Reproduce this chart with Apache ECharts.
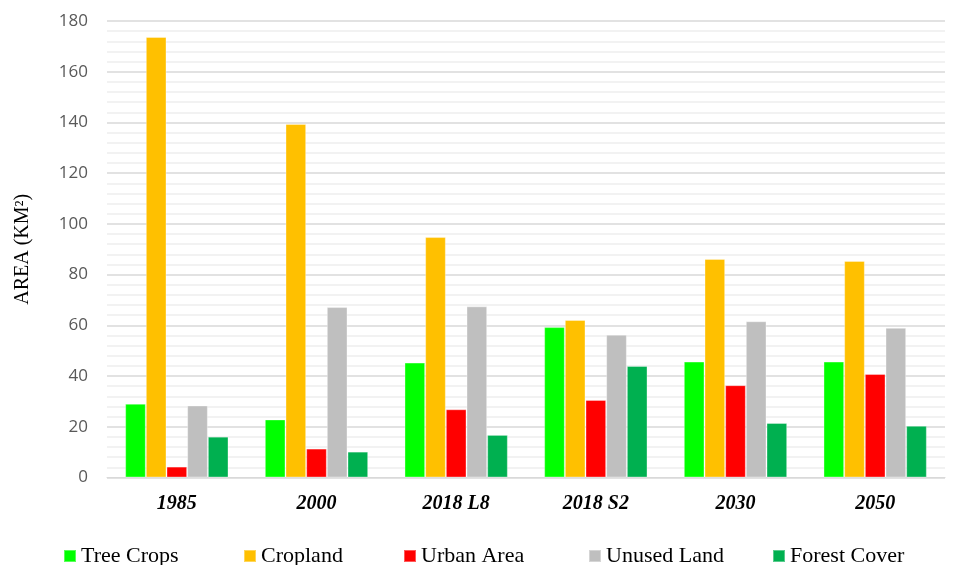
<!DOCTYPE html>
<html>
<head>
<meta charset="utf-8">
<script src="https://cdn.jsdelivr.net/npm/echarts@6/dist/echarts.min.js"></script>
<style>
  html, body { margin: 0; padding: 0; background: #fff; }
  #chart { width: 959px; height: 565px; }
</style>
</head>
<body>
<div id="chart"></div>
<script>
// Land-use area by period (km²)
const categories = ['1985', '2000', '2018 L8', '2018 S2', '2030', '2050'];
const treeCrops   = [29.1, 22.9, 45.3, 59.3, 45.7, 45.7];
const cropland    = [173.7, 139.4, 94.8, 62.1, 86.2, 85.4];
const urbanArea   = [4.3, 11.4, 26.9, 30.6, 36.4, 40.8];
const unusedLand  = [28.4, 67.2, 67.5, 56.3, 61.6, 59.0];
const forestCover = [16.1, 10.2, 16.8, 44.0, 21.5, 20.4];
const yTicks = [0, 20, 40, 60, 80, 100, 120, 140, 160, 180];

const seriesDefs = [
  { name: 'Tree Crops',   data: treeCrops,   color: '#00ff00' },
  { name: 'Cropland',     data: cropland,    color: '#ffc000' },
  { name: 'Urban Area',   data: urbanArea,   color: '#ff0000' },
  { name: 'Unused Land',  data: unusedLand,  color: '#bfbfbf' },
  { name: 'Forest Cover', data: forestCover, color: '#00b050' }
];

// horizontal start of each legend entry
const legendLeft = [58, 238, 398, 583, 767];
const serif = '"Liberation Serif", "Times New Roman", serif';

const chart = echarts.init(document.getElementById('chart'), null, { renderer: 'canvas' });

chart.setOption({
  animation: false,
  backgroundColor: '#ffffff',
  grid: { left: 107, right: 14, top: 21, bottom: 87.5, containLabel: false },
  legend: seriesDefs.map((s, i) => ({
    left: legendLeft[i],
    top: 540,
    itemWidth: 12,
    itemHeight: 12,
    icon: 'rect',
    textStyle: { fontFamily: serif, fontSize: 22, color: '#000' },
    data: [s.name]
  })),
  xAxis: {
    type: 'category',
    data: categories,
    axisLine: { show: true, lineStyle: { color: '#d9d9d9', width: 1 } },
    axisTick: { show: false },
    axisLabel: {
      margin: 16,
      fontFamily: serif,
      fontSize: 20,
      fontWeight: 'bold',
      fontStyle: 'italic',
      color: '#000'
    }
  },
  yAxis: {
    type: 'value',
    min: yTicks[0],
    max: yTicks[yTicks.length - 1],
    interval: 20,
    name: 'AREA (KM²)',
    nameLocation: 'middle',
    nameGap: 74,
    nameRotate: 90,
    nameTextStyle: { fontFamily: serif, fontSize: 20, color: '#000' },
    axisLine: { show: false },
    axisTick: { show: false },
    axisLabel: { margin: 19, fontFamily: '"Open Sans", "Liberation Sans", sans-serif', fontSize: 17, color: '#595959' },
    splitLine: { show: true, lineStyle: { color: '#d9d9d9', width: 1.5 } },
    minorTick: { show: false, splitNumber: 5 },
    minorSplitLine: { show: true, lineStyle: { color: '#eeeeee', width: 1.5 } }
  },
  series: seriesDefs.map(s => ({
    name: s.name,
    type: 'bar',
    data: s.data,
    barGap: '0%',
    barCategoryGap: '26%',
    itemStyle: { color: s.color, borderColor: 'rgba(255,255,255,0.35)', borderWidth: 1 }
  }))
});
</script>
</body>
</html>
